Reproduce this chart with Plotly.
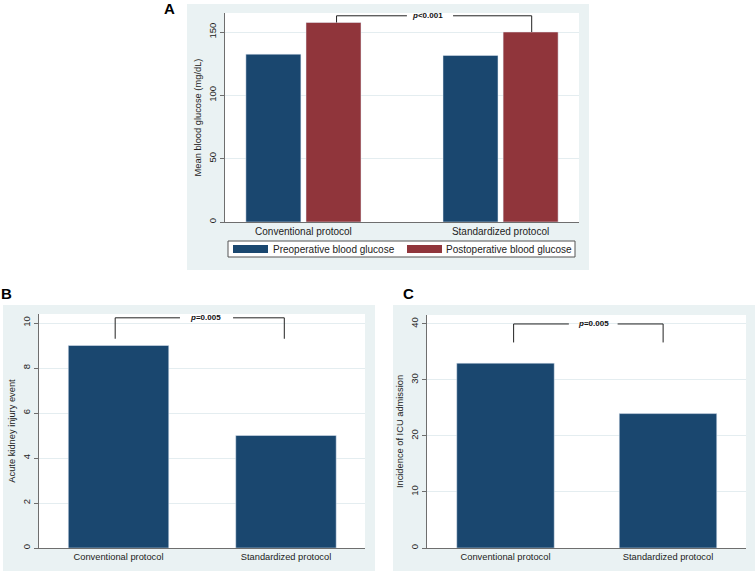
import plotly.graph_objects as go

W, H = 755, 573

# ---------------- data ----------------
groups = ["Conventional protocol", "Standardized protocol"]
pre_glucose = [132.5, 131.5]
post_glucose = [157.5, 150]
aki_events = [9, 5]
icu_admission = [33, 24]
series_names = ["Preoperative blood glucose", "Postoperative blood glucose"]
p_texts = ["<b><i>p</i>&lt;0.001</b>", "<b><i>p</i>=0.005</b>", "<b><i>p</i>=0.005</b>"]
ticks_a = [0, 50, 100, 150]
ticks_b = [0, 2, 4, 6, 8, 10]
ticks_c = [0, 10, 20, 30, 40]

NAVY = "#1a476f"
MAROON = "#90353b"
REGION = "#eaf2f3"
GRID = "#e4edf0"
AX = "#6e6e6e"
FONT = "Arial, Liberation Sans, sans-serif"


def px(x):
    return x / W


def py(y):
    return 1 - y / H


fig = go.Figure()

# Panel A bars
fig.add_trace(go.Bar(x=[0, 1], y=pre_glucose, name=series_names[0], marker_color=NAVY,
                     width=0.279, offset=-0.292, xaxis="x", yaxis="y", showlegend=False))
fig.add_trace(go.Bar(x=[0, 1], y=post_glucose, name=series_names[1], marker_color=MAROON,
                     width=0.279, offset=0.013, xaxis="x", yaxis="y", showlegend=False))
# Panel B
fig.add_trace(go.Bar(x=[0, 1], y=aki_events, marker_color=NAVY, width=0.6,
                     xaxis="x2", yaxis="y2", showlegend=False))
# Panel C
fig.add_trace(go.Bar(x=[0, 1], y=icu_admission, marker_color=NAVY, width=0.6,
                     xaxis="x3", yaxis="y3", showlegend=False))


def xcommon(fs):
    return dict(tickmode="array", tickvals=[0, 1], ticktext=groups, showgrid=False,
                zeroline=False, showline=True, linecolor=AX, linewidth=1, ticks="",
                tickfont=dict(family=FONT, size=fs, color="#222"), fixedrange=True)


def ycommon(rng, tv, title):
    return dict(range=rng, tickmode="array", tickvals=tv, showgrid=True, gridcolor=GRID,
                gridwidth=1, zeroline=False, showline=True, linecolor=AX, linewidth=1,
                ticks="outside", ticklen=4, tickcolor=AX, tickangle=-90,
                tickfont=dict(family=FONT, size=9.5, color="#222"),
                title=dict(text=title, standoff=3, font=dict(family=FONT, size=9.3, color="#222")))


fig.update_layout(
    width=W, height=H, margin=dict(l=0, r=0, t=0, b=0),
    paper_bgcolor="white", plot_bgcolor="white", barmode="overlay",
    xaxis=dict(domain=[px(225), px(579)], range=[-0.398, 1.398], anchor="y", **xcommon(10)),
    yaxis=dict(domain=[py(222), py(13)], anchor="x", **ycommon([0, 165], ticks_a, "Mean blood glucose (mg/dL)")),
    xaxis2=dict(domain=[px(39), px(365)], range=[-0.475, 1.472], anchor="y2", **xcommon(9.3)),
    yaxis2=dict(domain=[py(548), py(314)], anchor="x2", **ycommon([0, 10.4], ticks_b, "Acute kidney injury event")),
    xaxis3=dict(domain=[px(427), px(746)], range=[-0.483, 1.48], anchor="y3", **xcommon(9.3)),
    yaxis3=dict(domain=[py(548), py(315)], anchor="x3", **ycommon([0, 41.6], ticks_c, "Incidence of ICU admission")),
)

shapes = []
# graph region backgrounds
for (x0, y0, x1, y1) in [(187, 4, 589, 270), (3, 305, 375, 571), (393, 305, 755, 571)]:
    shapes.append(dict(type="rect", xref="paper", yref="paper", x0=px(x0), x1=px(x1),
                       y0=py(y1), y1=py(y0), fillcolor=REGION, line=dict(width=0), layer="below"))
# white plot areas on top of the region backgrounds
for xa, ya in [("x", "y"), ("x2", "y2"), ("x3", "y3")]:
    shapes.append(dict(type="rect", xref=xa + " domain", yref=ya + " domain", x0=0, x1=1, y0=0, y1=1,
                       fillcolor="white", line=dict(width=0), layer="below"))


def bracket(xr, yr, xl, xr_, ytop, yl, yr2, g0, g1):
    ln = dict(color="#222", width=1)
    return [
        dict(type="line", xref=xr, yref=yr, x0=xl, x1=xl, y0=yl, y1=ytop, line=ln),
        dict(type="line", xref=xr, yref=yr, x0=xr_, x1=xr_, y0=yr2, y1=ytop, line=ln),
        dict(type="line", xref=xr, yref=yr, x0=xl, x1=g0, y0=ytop, y1=ytop, line=ln),
        dict(type="line", xref=xr, yref=yr, x0=g1, x1=xr_, y0=ytop, y1=ytop, line=ln),
    ]


shapes += bracket("x", "y", 0.168, 1.158, 162.8, post_glucose[0], post_glucose[1], 0.525, 0.759)
shapes += bracket("x2", "y2", -0.02, 0.99, 10.23, 9.3, 9.3, 0.367, 0.684)
shapes += bracket("x3", "y3", 0.05, 0.97, 40, 36.7, 36.7, 0.39, 0.69)

# legend box for panel A
shapes.append(dict(type="rect", xref="paper", yref="paper", x0=px(228), x1=px(575),
                   y0=py(257), y1=py(241), fillcolor="white", line=dict(color="#555", width=1)))
shapes.append(dict(type="rect", xref="paper", yref="paper", x0=px(233), x1=px(268),
                   y0=py(253), y1=py(245), fillcolor=NAVY, line=dict(width=0)))
shapes.append(dict(type="rect", xref="paper", yref="paper", x0=px(407), x1=px(442),
                   y0=py(253), y1=py(245), fillcolor=MAROON, line=dict(width=0)))
fig.update_layout(shapes=shapes)

ann = []
ann.append(dict(xref="x", yref="y", x=0.627, y=162.8, text=p_texts[0], showarrow=False,
                font=dict(family=FONT, size=8, color="#111")))
ann.append(dict(xref="x2", yref="y2", x=0.522, y=10.23, text=p_texts[1], showarrow=False,
                font=dict(family=FONT, size=8, color="#111")))
ann.append(dict(xref="x3", yref="y3", x=0.54, y=40, text=p_texts[2], showarrow=False,
                font=dict(family=FONT, size=8, color="#111")))
# legend labels
ann.append(dict(xref="paper", yref="paper", x=px(271), y=py(249), xanchor="left", yanchor="middle",
                text=series_names[0], showarrow=False, font=dict(family=FONT, size=10, color="#222")))
ann.append(dict(xref="paper", yref="paper", x=px(444), y=py(249), xanchor="left", yanchor="middle",
                text=series_names[1], showarrow=False, font=dict(family=FONT, size=10, color="#222")))
# panel letters
for letter, x, y in [("A", 169, 9), ("B", 6, 293), ("C", 408, 293)]:
    ann.append(dict(xref="paper", yref="paper", x=px(x), y=py(y), xanchor="center", yanchor="middle",
                    text="<b>" + letter + "</b>", showarrow=False,
                    font=dict(family=FONT, size=15, color="black")))
fig.update_layout(annotations=ann)

fig.write_html("out.html", config={"displayModeBar": False},
               post_script="document.body.style.margin='0';")
